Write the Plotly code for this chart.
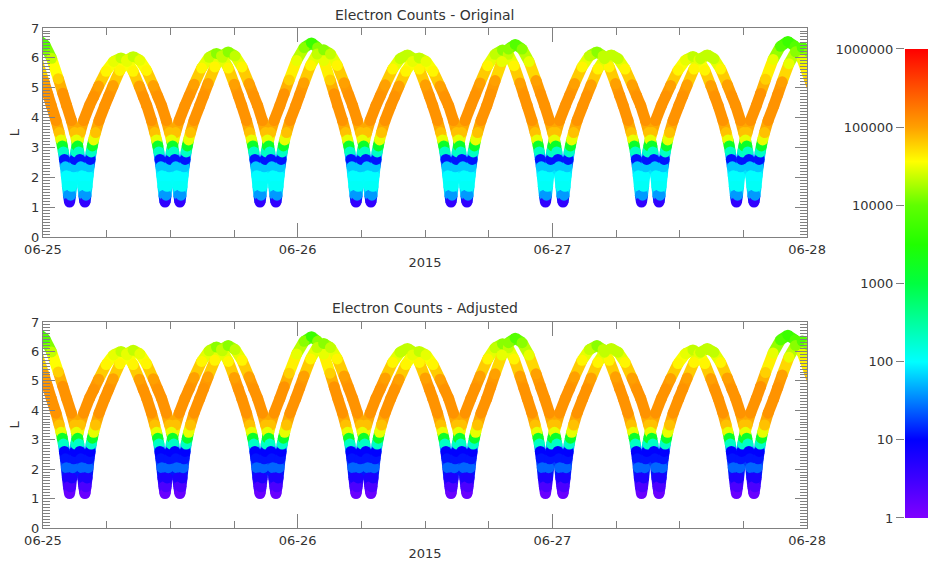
import numpy as np
import pandas as pd
import plotly.graph_objects as go
from plotly.colors import sample_colorscale

# ---------------- values ----------------
# hours after 2015-06-25 00:00 UT; apogee k comes before perigee k
APOGEE_H_A = [-1.6, 7.35, 16.35, 25.3, 34.35, 43.3, 52.2, 61.25, 70.2]
APOGEE_L_A = [6.4, 6.0, 6.15, 6.5, 6.1, 6.26, 6.2, 6.05, 6.55]
PERIGEE_H_A = [2.5, 11.5, 20.45, 29.5, 38.45, 47.35, 56.4, 65.35, 74.8]

APOGEE_H_B = [-0.45, 8.5, 17.45, 26.45, 35.45, 44.5, 53.55, 62.6, 71.55]
APOGEE_L_B = [6.6, 6.04, 6.2, 6.27, 6.0, 6.45, 6.1, 6.1, 6.35]
PERIGEE_H_B = [3.95, 12.9, 21.95, 30.9, 39.95, 49.0, 58.05, 67.0, 76.0]

# L-shell crossings near perigee (hours before / after perigee)
LOW_L = [1.17, 1.4, 1.7, 2.05, 2.35, 2.6, 2.85, 3.05, 3.25, 3.5, 3.9, 4.4]
LOW_BEFORE_H = [0, 0.10, 0.20, 0.30, 0.39, 0.48, 0.58, 0.68, 0.80, 0.97, 1.27, 1.72]
LOW_AFTER_H = [0, 0.10, 0.20, 0.30, 0.39, 0.49, 0.59, 0.70, 0.82, 1.00, 1.33, 1.87]

# upper arc between apogee and L=4.4: share of time elapsed / share of L drop
UPPER_TIME_FRAC = [0.235, 0.47, 0.706, 0.863]
UPPER_DROP_FRAC = [0.075, 0.28, 0.59, 0.81]

# electron counts seen along the track, by L band (upper band edges)
L_BAND_TOP = [1.25, 1.5, 1.9, 2.2, 2.5, 2.75, 2.95, 3.15, 3.4, 3.7, 4.95,
              5.25, 5.5, 5.75, 5.95, 6.15, 6.35, 6.5, 7.0]
COUNTS_ORIG = [4, 40, 110, 100, 60, 12, 200, 1500, 30000, 70000, 120000,
               100000, 60000, 40000, 30000, 22000, 14000, 8000, 5000]
COUNTS_ADJ = [1.5, 2.5, 6, 25, 12, 10, 200, 1500, 30000, 70000, 120000,
              100000, 60000, 40000, 30000, 22000, 14000, 8000, 5000]

CBAR_TICKS = [1, 10, 100, 1000, 10000, 100000, 1000000]
CBAR_TEXT = ["1", "10", "100", "1000", "10000", "100000", "1000000"]

# ---------------- styling ----------------
CS = [[0.000, "#8000ff"], [0.080, "#4000ff"], [0.167, "#0000ff"],
      [0.250, "#0080ff"], [0.333, "#00ffff"], [0.417, "#00ff9f"],
      [0.500, "#00ff40"], [0.583, "#20ff00"], [0.667, "#60ff00"],
      [0.760, "#ffff00"], [0.833, "#ffa000"], [0.917, "#ff5000"],
      [1.000, "#ff0000"]]
W = 11
FRAME = "#808080"
TXT = "#333333"
BASE = pd.Timestamp("2015-06-25")


def track(apo_h, apo_L, per_h):
    hours, Ls = [], []
    for k in range(len(per_h)):
        ta, La, tp = apo_h[k], apo_L[k], per_h[k]
        hours.append(ta); Ls.append(La)
        D = (tp - LOW_BEFORE_H[-1]) - ta
        for f, d in zip(UPPER_TIME_FRAC, UPPER_DROP_FRAC):
            hours.append(ta + f * D); Ls.append(La - d * (La - LOW_L[-1]))
        for dh, L in zip(LOW_BEFORE_H[::-1], LOW_L[::-1]):
            hours.append(tp - dh); Ls.append(L)
        for dh, L in zip(LOW_AFTER_H[1:], LOW_L[1:]):
            hours.append(tp + dh); Ls.append(L)
        if k + 1 < len(apo_h):
            tn, Ln = apo_h[k + 1], apo_L[k + 1]
            D = tn - (tp + LOW_AFTER_H[-1])
            for f, d in zip(UPPER_TIME_FRAC[::-1], UPPER_DROP_FRAC[::-1]):
                hours.append(tn - f * D); Ls.append(Ln - d * (Ln - LOW_L[-1]))
    times = [(BASE + pd.Timedelta(hours=h)).strftime("%Y-%m-%d %H:%M:%S") for h in hours]
    return times, Ls


def counts_for(Ls, table):
    idx = np.searchsorted(L_BAND_TOP, Ls, side="right")
    idx = np.clip(idx, 0, len(table) - 1)
    return np.array(table, dtype=float)[idx]


tracks = [track(APOGEE_H_A, APOGEE_L_A, PERIGEE_H_A),
          track(APOGEE_H_B, APOGEE_L_B, PERIGEE_H_B)]

fig = go.Figure()
first_bar = True
for panel, table in ((1, COUNTS_ORIG), (2, COUNTS_ADJ)):
    xa, ya = ("x", "y") if panel == 1 else ("x2", "y2")
    seg_groups = {}
    marks = []
    for times, Ls in tracks:
        logc = np.log10(counts_for(Ls, table))
        for i in range(len(times) - 1):
            key = round(float((logc[i] + logc[i + 1]) / 12.0), 3)
            g = seg_groups.setdefault(key, ([], []))
            g[0].extend([times[i], times[i + 1], None])
            g[1].extend([Ls[i], Ls[i + 1], None])
        marks.append((times, Ls, logc))
    for key in sorted(seg_groups):
        gx, gy = seg_groups[key]
        fig.add_trace(go.Scatter(x=gx, y=gy, mode="lines", xaxis=xa, yaxis=ya,
                                 line=dict(color=sample_colorscale(CS, [key])[0], width=W),
                                 hoverinfo="skip", showlegend=False))
    for times, Ls, logc in marks:
        mk = dict(size=W, color=logc, colorscale=CS, cmin=0, cmax=6, line=dict(width=0))
        if first_bar:
            mk.update(showscale=True, colorbar=dict(
                x=0.974, xanchor="left", xref="paper", y=0.0832, yanchor="bottom", yref="paper",
                len=0.830, lenmode="fraction", thickness=25, thicknessmode="pixels",
                outlinewidth=0, ticks="", showticklabels=False, xpad=0, ypad=0))
            first_bar = False
        else:
            mk.update(showscale=False)
        fig.add_trace(go.Scatter(x=times, y=Ls, mode="markers", xaxis=xa, yaxis=ya,
                                 marker=mk, showlegend=False,
                                 hovertemplate="%{x}<br>L=%{y:.2f}<extra></extra>"))

# axis carrying the colour-bar labels (log scale, labels on the left)
fig.add_trace(go.Scatter(x=[None], y=[None], xaxis="x3", yaxis="y3",
                         showlegend=False, hoverinfo="skip"))

xcommon = dict(type="date", range=["2015-06-25", "2015-06-28"], domain=[0, 0.8633],
               showline=True, linecolor=FRAME, linewidth=1, mirror="ticks",
               ticks="inside", ticklen=14, tickcolor=FRAME, tick0="2015-06-25",
               dtick=86400000, tickformat="%m-%d",
               minor=dict(dtick=21600000, ticks="inside", ticklen=7, tickcolor=FRAME),
               showgrid=False, zeroline=False, tickfont=dict(size=13, color=TXT),
               title=dict(text="2015", standoff=2, font=dict(size=13, color=TXT)))
ycommon = dict(range=[0, 7], dtick=1, showline=True, linecolor=FRAME, linewidth=1,
               mirror="ticks", ticks="inside", ticklen=12, tickcolor=FRAME,
               minor=dict(dtick=0.1, ticks="inside", ticklen=7, tickcolor=FRAME),
               showgrid=False, zeroline=False, tickfont=dict(size=13, color=TXT),
               title=dict(text="L", standoff=8, font=dict(size=13, color=TXT)))

fig.update_layout(
    width=928, height=565,
    margin=dict(l=43, r=0, t=0, b=0, autoexpand=False),
    paper_bgcolor="white", plot_bgcolor="white",
    font=dict(family="DejaVu Sans", size=13, color=TXT),
    xaxis=dict(xcommon, anchor="y"),
    yaxis=dict(ycommon, domain=[0.5805, 0.9504], anchor="x"),
    xaxis2=dict(xcommon, anchor="y2"),
    yaxis2=dict(ycommon, domain=[0.0655, 0.4301], anchor="x2"),
    xaxis3=dict(domain=[0.974, 1.0], anchor="y3", visible=False, range=[0, 1]),
    yaxis3=dict(domain=[0.0832, 0.9133], anchor="x3", type="log", range=[0, 6],
                side="left", ticks="outside", ticklen=8, tickcolor=FRAME,
                tickvals=CBAR_TICKS, ticktext=CBAR_TEXT, showline=False,
                showgrid=False, zeroline=False, tickfont=dict(size=13, color=TXT)),
    annotations=[
        dict(text="Electron Counts - Original", x=0.4316, y=0.9735, xref="paper", yref="paper",
             showarrow=False, yanchor="middle", font=dict(size=14, color=TXT)),
        dict(text="Electron Counts - Adjusted", x=0.4316, y=0.4549, xref="paper", yref="paper",
             showarrow=False, yanchor="middle", font=dict(size=14, color=TXT)),
    ],
)

fig.write_html("out.html", config={"displayModeBar": False},
               post_script="document.body.style.margin='0';document.body.style.overflow='hidden';")
